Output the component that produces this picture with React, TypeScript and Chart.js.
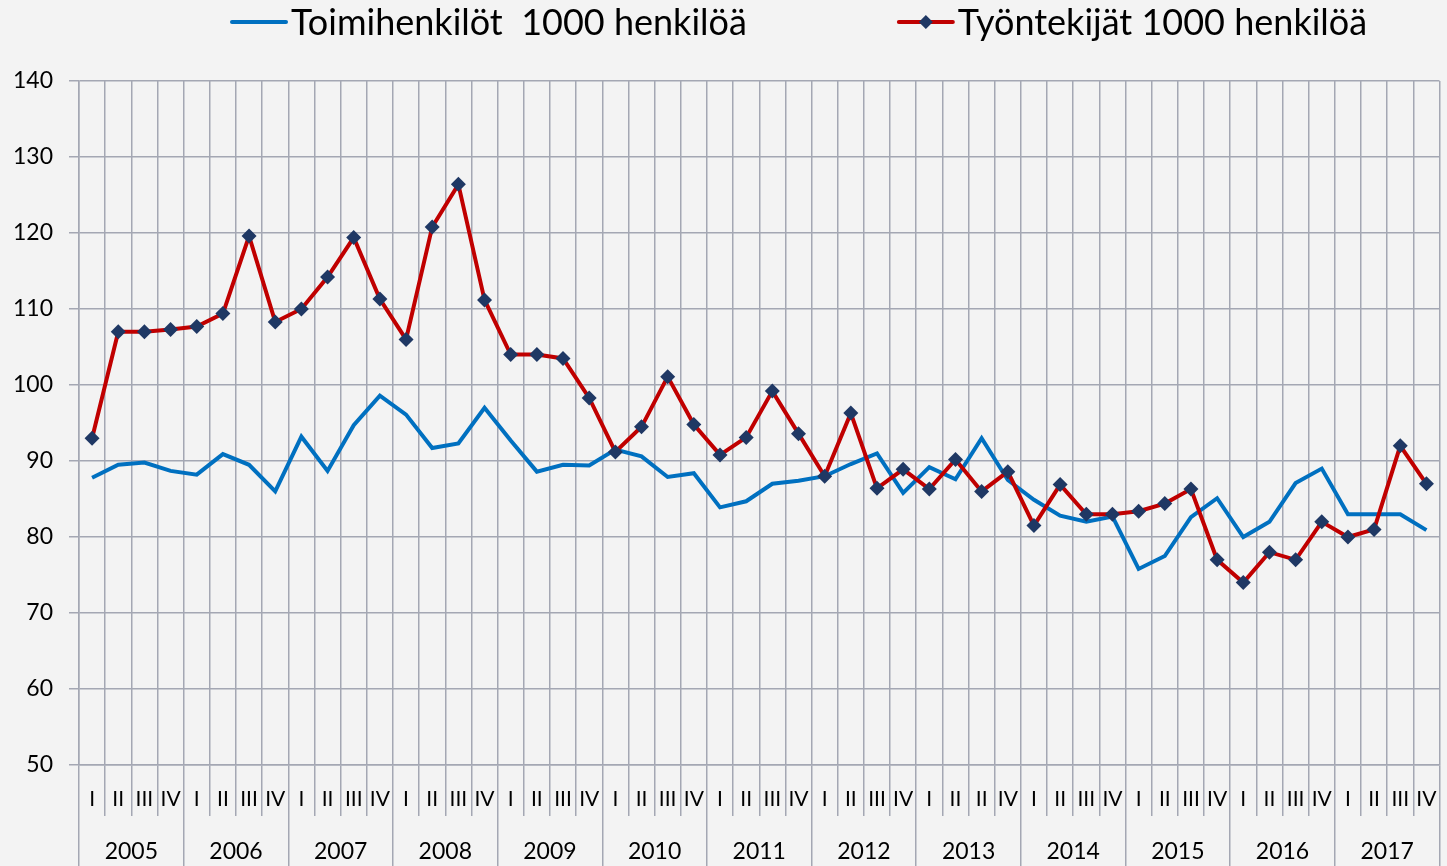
import React, { useEffect, useRef } from "react";
import { Chart, registerables } from "chart.js";

Chart.register(...registerables);

const years = ["2005", "2006", "2007", "2008", "2009", "2010", "2011", "2012", "2013", "2014", "2015", "2016", "2017"];

const quarterLabels = [
  "I", "II", "III", "IV", "I", "II", "III", "IV", "I", "II", "III", "IV",
  "I", "II", "III", "IV", "I", "II", "III", "IV", "I", "II", "III", "IV",
  "I", "II", "III", "IV", "I", "II", "III", "IV", "I", "II", "II", "IV",
  "I", "II", "III", "IV", "I", "II", "III", "IV", "I", "II", "III", "IV",
  "I", "II", "III", "IV",
];

const seriesNames = ["Toimihenkilöt  1000 henkilöä", "Työntekijät 1000 henkilöä"];

const toimihenkilot = [
  87.8, 89.5, 89.8, 88.7, 88.2, 90.9, 89.5, 86.0,
  93.2, 88.7, 94.7, 98.6, 96.1, 91.7, 92.3, 97.0,
  92.7, 88.6, 89.5, 89.4, 91.5, 90.6, 87.9, 88.4,
  83.9, 84.7, 87.0, 87.4, 88.0, 89.6, 91.0, 85.8,
  89.2, 87.6, 93.0, 87.5, 84.9, 82.8, 82.0, 82.7,
  75.8, 77.5, 82.6, 85.1, 80.0, 82.0, 87.1, 89.0,
  83.0, 83.0, 83.0, 80.9,
];

const tyontekijat = [
  93.0, 107.0, 107.0, 107.3, 107.7, 109.4, 119.6, 108.3,
  110.0, 114.2, 119.4, 111.3, 106.0, 120.8, 126.4, 111.2,
  104.0, 104.0, 103.5, 98.3, 91.2, 94.5, 101.1, 94.8,
  90.8, 93.1, 99.2, 93.6, 88.0, 96.3, 86.4, 88.9,
  86.3, 90.2, 86.0, 88.6, 81.5, 86.9, 83.0, 83.0,
  83.4, 84.4, 86.3, 77.0, 74.0, 78.0, 77.0, 82.0,
  80.0, 81.0, 92.0, 87.0,
];

const yMin = 50;
const yMax = 140;
const yStep = 10;

const FONT = "Lato, 'Noto Sans', sans-serif";
const GRID = "#a4a7b3";
const BLUE = "#0070c0";
const RED = "#c00000";
const NAVY = "#1f3864";

const legendPlugin = {
  id: "topLegend",
  afterDraw(chart: any) {
    const ctx = chart.ctx;
    ctx.save();
    ctx.font = `36px ${FONT}`;
    ctx.textBaseline = "middle";
    const y = 22;
    let x = 232;
    chart.data.datasets.forEach((ds: any) => {
      const x0 = x;
      const x1 = x + 54;
      ctx.strokeStyle = ds.borderColor;
      ctx.lineWidth = 4;
      ctx.lineCap = "round";
      ctx.beginPath();
      ctx.moveTo(x0, y);
      ctx.lineTo(x1, y);
      ctx.stroke();
      if (ds.pointRadius > 0) {
        const cx = (x0 + x1) / 2;
        const r = 7;
        ctx.fillStyle = ds.pointBackgroundColor;
        ctx.beginPath();
        ctx.moveTo(cx, y - r);
        ctx.lineTo(cx + r, y);
        ctx.lineTo(cx, y + r);
        ctx.lineTo(cx - r, y);
        ctx.closePath();
        ctx.fill();
      }
      ctx.fillStyle = "#000";
      ctx.fillText(ds.label, x1 + 5, y + 1);
      x = x1 + 5 + ctx.measureText(ds.label).width + 152;
    });
    ctx.restore();
  },
};

export default function App() {
  const canvasRef = useRef<HTMLCanvasElement | null>(null);

  useEffect(() => {
    if (!canvasRef.current) return;
    const chart = new Chart(canvasRef.current, {
      type: "line",
      data: {
        labels: quarterLabels,
        datasets: [
          {
            label: seriesNames[0],
            data: toimihenkilot,
            borderColor: BLUE,
            backgroundColor: BLUE,
            borderWidth: 4,
            pointRadius: 0,
            tension: 0,
            order: 2,
          },
          {
            label: seriesNames[1],
            data: tyontekijat,
            borderColor: RED,
            backgroundColor: RED,
            borderWidth: 4,
            pointStyle: "rectRot",
            pointRadius: 7.5,
            pointBackgroundColor: NAVY,
            pointBorderColor: NAVY,
            pointBorderWidth: 0,
            tension: 0,
            order: 1,
          },
        ],
      },
      options: {
        responsive: false,
        animation: false,
        events: [],
        layout: { padding: { top: 81, right: 4, left: 0, bottom: 0 } },
        plugins: {
          legend: { display: false },
          tooltip: { enabled: false },
          title: { display: false },
        },
        scales: {
          x: {
            type: "category",
            position: "bottom",
            offset: true,
            weight: 0,
            grid: {
              offset: true,
              color: GRID,
              lineWidth: 1.5,
              tickLength: 51,
              drawOnChartArea: true,
            },
            border: { display: true, color: GRID, width: 1.5 },
            ticks: {
              autoSkip: false,
              maxRotation: 0,
              minRotation: 0,
              color: "#000",
              font: { family: FONT, size: 21 },
              padding: -29,
            },
            afterFit: (scale: any) => {
              scale.height = 51;
            },
          },
          x2: {
            type: "category",
            position: "bottom",
            labels: years,
            offset: true,
            weight: 1,
            grid: {
              offset: true,
              color: GRID,
              lineWidth: 1.5,
              tickLength: 50,
              drawOnChartArea: false,
            },
            border: { display: false },
            ticks: {
              autoSkip: false,
              maxRotation: 0,
              minRotation: 0,
              color: "#000",
              font: { family: FONT, size: 23 },
              padding: -28,
            },
            afterFit: (scale: any) => {
              scale.height = 50;
            },
          },
          y: {
            min: yMin,
            max: yMax,
            ticks: {
              stepSize: yStep,
              color: "#000",
              font: { family: FONT, size: 23 },
              padding: 16,
            },
            grid: {
              color: GRID,
              lineWidth: 1.5,
              tickLength: 10,
            },
            border: { display: true, color: GRID, width: 1.5 },
            afterFit: (scale: any) => {
              scale.width = 79;
            },
          },
        },
      },
      plugins: [legendPlugin],
    });
    return () => chart.destroy();
  }, []);

  return (
    <div
      style={{
        position: "fixed",
        left: 0,
        top: 0,
        width: 1447,
        height: 866,
        background: "#f3f3f3",
      }}
    >
      <canvas ref={canvasRef} width={1447} height={866} style={{ display: "block" }} />
    </div>
  );
}
